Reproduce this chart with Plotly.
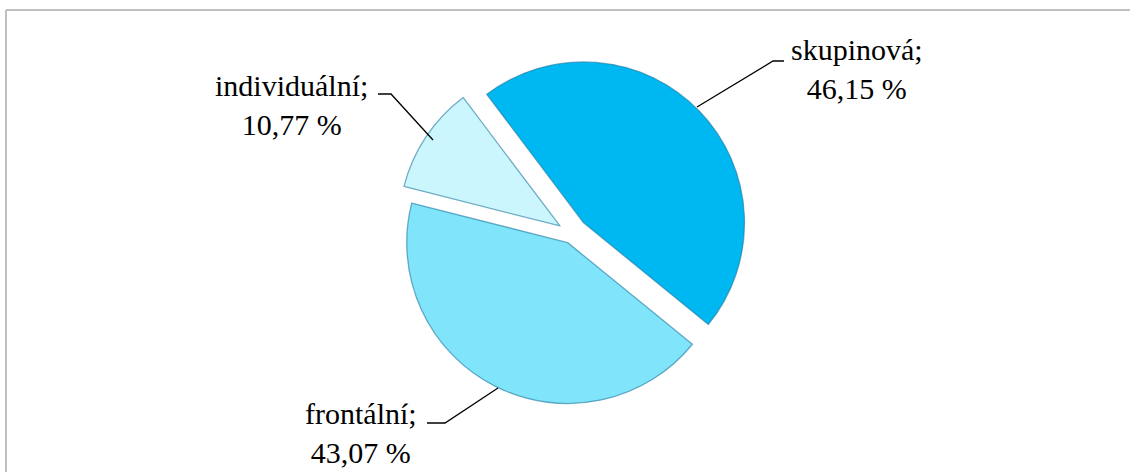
import plotly.graph_objects as go

# Forma výuky – podíl odpovědí
categories = ["skupinová", "frontální", "individuální"]
shares = [46.15, 43.07, 10.77]
value_labels = ["46,15 %", "43,07 %", "10,77 %"]

colors = ["#00B8F1", "#80E4FA", "#CCF6FD"]
pulls = [0.10, 0.06, 0.09]

W, H = 1130, 472


def px(x):
    return x / W


def py(y):
    return 1 - y / H


# pie placed with its centre at about (572, 234) px
cx, cy, half = 572, 234, 177

fig = go.Figure()
fig.add_trace(go.Pie(
    labels=categories,
    values=shares,
    sort=False,
    direction="clockwise",
    rotation=-37,
    pull=pulls,
    marker=dict(colors=colors, line=dict(color="rgba(30,120,160,0.6)", width=1.3)),
    textinfo="none",
    hoverinfo="label+percent",
    showlegend=False,
    domain=dict(x=[px(cx - half), px(cx + half)], y=[py(cy + half), py(cy - half)]),
))

# label text blocks: (centre x, middle y) in pixels
label_pos = {
    "skupinová": (857, 69),
    "frontální": (361, 433),
    "individuální": (291, 105),
}
# leader lines as polylines in pixels
leaders = {
    "skupinová": [(697, 107), (773, 61), (784, 61)],
    "frontální": [(498, 388), (445, 423), (427, 423)],
    "individuální": [(433, 140), (391, 94), (378, 94)],
}

annotations = []
shapes = []
for cat, val in zip(categories, value_labels):
    x, y = label_pos[cat]
    annotations.append(dict(
        x=px(x), y=py(y), xref="paper", yref="paper",
        xanchor="center", yanchor="middle", align="center",
        text=f"{cat};<br>{val}", showarrow=False,
        font=dict(family="Liberation Serif", size=30, color="#000000"),
    ))
    pts = leaders[cat]
    path = "M " + " L ".join(f"{px(a):.5f},{py(b):.5f}" for a, b in pts)
    shapes.append(dict(type="path", xref="paper", yref="paper", path=path,
                       line=dict(color="#000000", width=1.3)))

# chart-area frame (top and left edges)
shapes.append(dict(type="line", xref="paper", yref="paper",
                   x0=px(6), y0=py(10), x1=px(W + 2), y1=py(10),
                   line=dict(color="#BFBFBF", width=2)))
shapes.append(dict(type="line", xref="paper", yref="paper",
                   x0=px(6), y0=py(10), x1=px(6), y1=py(H + 2),
                   line=dict(color="#BFBFBF", width=2)))

fig.update_layout(
    width=W, height=H,
    margin=dict(l=0, r=0, t=0, b=0),
    paper_bgcolor="white", plot_bgcolor="white",
    annotations=annotations, shapes=shapes,
)

fig.write_html("out.html")
